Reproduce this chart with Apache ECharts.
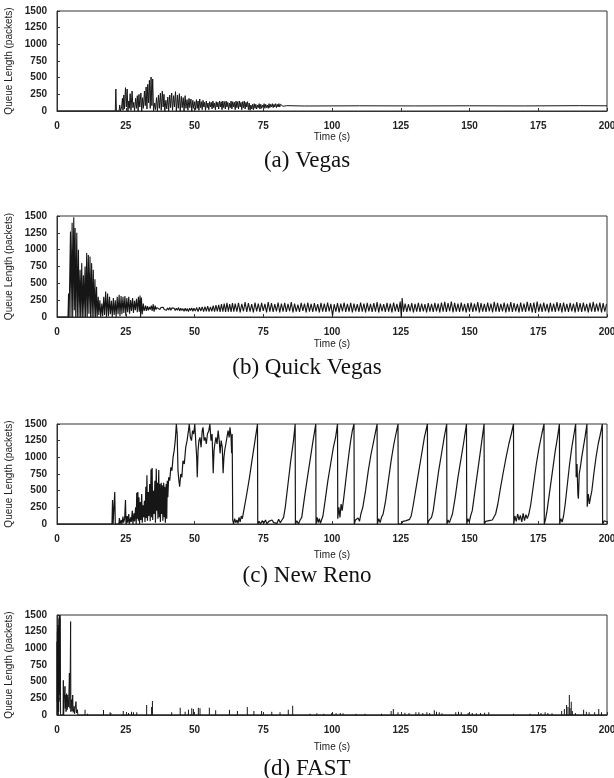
<!DOCTYPE html>
<html>
<head>
<meta charset="utf-8">
<script src="https://cdn.jsdelivr.net/npm/echarts@6/dist/echarts.min.js"></script>
<style>html,body{margin:0;padding:0;background:#fff;}#c{width:614px;height:778px;}</style>
</head>
<body>
<div id="c"></div>
<script>
// ---- data (time s, queue length packets) ----
const captions = ['(a) Vegas', '(b) Quick Vegas', '(c) New Reno', '(d) FAST'];
const xTicks = [0, 25, 50, 75, 100, 125, 150, 175, 200];
const yTicks = [0, 250, 500, 750, 1000, 1250, 1500];

const vegas = [[0,0],[21.2,0],[21.4,330],[21.6,0],[22.6,0],[22.8,90],[23.1,0],[23.5,60],[23.8,190],[24.0,10],[24.3,240],[24.5,30],[24.9,350],[25.2,60],[25.5,330],[25.8,0],[26.1,150],[26.3,40],[26.6,260],[26.9,10],[27.3,300],[27.6,50],[27.9,130],[28.2,0],[28.6,190],[28.9,40],[29.2,230],[29.5,0],[29.8,250],[30.1,60],[30.5,270],[30.8,0],[31.1,200],[31.4,40],[31.8,300],[32.1,80],[32.4,360],[32.7,30],[33.0,400],[33.3,120],[33.6,460],[33.9,40],[34.2,510],[34.5,80],[34.8,480],[35.1,0],[35.5,120],[35.8,20],[36.2,200],[36.5,0],[36.9,240],[37.2,40],[37.6,270],[37.9,10],[38.3,300],[38.6,60],[38.9,250],[39.2,0],[39.6,160],[39.9,30],[40.3,210],[40.6,0],[41.0,240],[41.3,50],[41.7,270],[42.0,10],[42.4,230],[42.7,60],[43.1,290],[43.4,0],[43.8,240],[44.1,40],[44.5,260],[44.8,0],[45.2,220],[45.5,50],[45.9,200],[46.2,0],[46.6,230],[46.9,40],[47.3,170],[47.6,10],[48.0,190],[48.3,50],[48.7,180],[49.0,0],[49.4,160],[49.7,40],[50.1,140],[50.4,20],
[50.7,170],[51.0,40],[51.3,150],[51.6,10],[51.9,180],[52.2,50],[52.5,140],[52.8,20],[53.1,160],[53.4,60],[53.7,130],[54.0,10],[54.3,150],[54.6,50],[54.9,120],[55.2,20],[55.5,140],[55.8,60],[56.1,130],[56.4,30],[56.7,150],[57.0,50],[57.3,120],[57.6,20],[57.9,140],[58.2,60],[58.5,130],[58.8,30],[59.1,150],[59.4,60],[59.7,140],[60.0,20],[60.3,150],[60.6,50],[60.9,140],[61.2,30],[61.5,150],[61.8,60],[62.1,130],[62.4,20],[62.7,120],[63.0,50],[63.3,150],[63.6,30],[63.9,140],[64.2,60],[64.5,130],[64.8,20],[65.1,150],[65.4,50],[65.7,140],[66.0,30],[66.3,150],[66.6,60],[66.9,130],[67.2,20],[67.5,140],[67.8,50],[68.1,150],[68.4,30],[68.7,130],[69.0,60],[69.3,140],[69.6,20],[69.9,120],[70.2,10],
[70.5,90],[70.8,30],[71.1,100],[71.4,20],[71.7,110],[72.0,40],[72.3,100],[72.6,30],[72.9,90],[73.2,50],[73.5,110],[73.8,30],[74.1,100],[74.4,40],[74.7,90],[75.0,50],[75.3,110],[75.6,40],[75.9,100],[76.2,50],[76.5,90],[76.8,40],[77.1,110],[77.4,50],[77.7,100],[78.0,60],[78.3,110],[78.6,50],[78.9,100],[79.2,60],[79.5,110],[79.8,50],[80.1,100],[80.4,60],[80.7,110],[81.0,60],[81.3,100],[81.6,70],[81.9,100],[82.2,70],[82.5,95],[82.8,75],[83.5,80],[90,75],[110,78],[130,76],[150,78],[170,76],[190,80],[200,78]];

const quickVegas = [[0,0],[4.0,0],[4.2,350],[4.4,0],[4.8,0],[4.9,1270],[5.1,0],[5.5,1400],[5.7,0],[6.1,1480],[6.3,100],[6.6,1320],[6.8,0],[7.2,1250],[7.4,0],[7.8,1000],[8.0,0],[8.4,700],[8.6,0],[9.0,800],[9.2,0],[9.6,620],[9.8,0],[10.2,750],[10.4,0],[10.8,950],[11.0,0],[11.4,920],[11.6,50],[12.0,900],[12.2,0],[12.6,800],[12.8,0],[13.2,700],[13.4,0],[13.8,560],[14.0,0],[14.4,450],[14.6,0],[15.0,300],[15.2,30],[15.6,250],[15.9,0],[16.3,200],[16.6,10],[17.0,300],[17.3,30],[17.7,380],[18.0,0],[18.4,350],[18.7,10],[19.1,300],[19.4,40],[19.8,240],[20.1,0],[20.5,280],[20.8,30],[21.2,250],[21.5,0],[21.9,300],[22.2,40],[22.6,330],[22.9,10],[23.3,310],[23.6,40],[24.0,300],[24.3,60],[24.7,310],[25.0,20],[25.4,280],[25.7,70],[26.1,300],[26.4,50],[26.8,250],[27.1,90],[27.5,280],[27.8,60],[28.2,240],[28.5,100],[28.9,270],[29.2,70],[29.6,300],[29.9,80],[30.2,320],[30.4,0],[30.7,290],[31.0,40],[31.4,200],[31.7,90],
[32.2,170],[32.5,90],[32.9,160],[33.2,100],[33.6,150],[33.9,110],[34.3,170],[34.6,90],[35.0,190],[35.3,80],[35.7,170],[36.0,110],[36.4,140],[36.7,120],[37.1,150],[37.4,110],[37.8,140],[38.2,115],[38.6,145],[39.0,110],[39.4,130],[39.8,100],[40.2,135],[40.6,105],[41.0,140],[41.4,100],[41.8,135],[42.2,110],[42.6,130],[43.0,95],[43.4,130],[43.8,100],[44.2,140],[44.6,90],[45.0,130],[45.4,95],[45.8,125],[46.2,85],[46.6,130],[47.0,90],[47.4,125],[47.8,80],[48.2,130],[48.6,95],[49.0,135],[49.4,85],[49.8,130],[50.3,90],[50.8,140],[51.3,80],[51.8,145],[52.3,90],[52.8,150],[53.3,80],[53.8,155],[54.3,85],[54.8,160],[55.3,80],[55.8,150],[56.3,85],[56.8,170],[57.3,80],[57.8,175],[58.3,85],[58.8,180],[59.3,75],[59.8,190],[60.3,80],[60.8,200],[61.3,75],[61.8,210],[62.3,80],[62.8,190],[63.3,75],[63.8,205],[64.3,80],
[64.8,200],[65.4,80],[66.0,210],[66.6,70],[67.2,195],[67.8,85],[68.4,220],[69.0,75],[69.6,205],[70.2,80],[70.8,190],[71.4,70],[72.0,215],[72.6,85],[73.2,200],[73.8,75],[74.4,210],[75.0,90],[75.6,195],[76.2,70],[76.8,220],[77.4,80],[78.0,205],[78.6,75],[79.2,190],[79.8,85],[80.4,215],[81.0,70],[81.6,200],[82.2,80],[82.8,210],[83.4,75],[84.0,195],[84.6,85],[85.2,220],[85.8,70],[86.4,200],[87.0,80],[87.6,185],[88.2,75],[88.8,210],[89.4,90],[90.0,200],[90.6,70],[91.2,215],[91.8,80],[92.4,195],[93.0,75],[93.6,205],[94.2,85],[94.8,190],[95.4,70],[96.0,210],[96.6,80],[97.2,200],[97.8,75],[98.4,215],[99.0,85],[99.6,195],[100.2,20],[100.8,190],[101.4,80],[102.0,205],[102.6,70],[103.2,200],[103.8,85],[104.4,215],[105.0,75],[105.6,195],[106.2,80],[106.8,210],[107.4,70],[108.0,200],[108.6,85],[109.2,190],[109.8,75],[110.4,215],[111.0,80],[111.6,200],[112.2,70],[112.8,210],[113.4,85],[114.0,195],[114.6,75],[115.2,205],[115.8,80],[116.4,220],[117.0,70],[117.6,200],[118.2,85],[118.8,190],[119.4,75],[120.0,210],[120.6,80],[121.2,200],[121.8,70],[122.4,215],[123.0,85],[123.6,195],[124.2,75],[124.8,230],[125.2,0],[125.5,280],[126.0,80],[126.6,200],[127.2,75],[127.8,190],[128.4,85],[129.0,205],[129.6,70],[130.2,195],[130.8,80],[131.4,210],[132.0,75],[132.6,200],[133.2,85],[133.8,190],[134.4,70],[135.0,205],[135.6,80],[136.2,195],[136.8,75],[137.4,210],[138.0,85],[138.6,200],[139.2,70],[139.8,215],[140.4,80],[141.0,225],[141.6,75],[142.2,205],[142.8,85],[143.4,230],[144.0,70],[144.6,210],[145.2,80],[145.8,200],[146.4,75],[147.0,215],[147.6,85],[148.2,195],[148.8,70],[149.4,205],[150.0,80],[150.6,215],[151.2,75],[151.8,200],[152.4,85],[153.0,220],[153.6,70],[154.2,205],[154.8,80],[155.4,195],[156.0,75],[156.6,215],[157.2,85],[157.8,200],[158.4,70],[159.0,225],[159.6,80],[160.2,210],[160.8,75],[161.4,195],[162.0,85],[162.6,215],[163.2,70],[163.8,200],[164.4,80],[165.0,220],[165.6,75],[166.2,205],[166.8,85],[167.4,195],[168.0,70],[168.6,215],[169.2,80],[169.8,200],[170.4,75],[171.0,225],[171.6,85],[172.2,205],[172.8,70],[173.4,215],[174.0,60],[174.6,230],[175.2,80],[175.8,200],[176.4,75],[177.0,215],[177.6,85],[178.2,195],[178.8,70],[179.4,210],[180.0,80],[180.6,200],[181.2,75],[181.8,220],[182.4,85],[183.0,205],[183.6,70],[184.2,215],[184.8,80],[185.4,195],[186.0,75],[186.6,210],[187.2,85],[187.8,200],[188.4,70],[189.0,220],[189.6,80],[190.2,205],[190.8,75],[191.4,215],[192.0,85],[192.6,195],[193.2,70],[193.8,210],[194.4,80],[195.0,225],[195.6,75],[196.2,200],[196.8,85],[197.4,215],[198.0,70],[198.6,205],[199.2,80],[199.8,190]];

const newReno = [[0,0],[20.0,0],[20.2,360],[20.4,0],[20.8,0],[21.0,480],[21.2,0],[22.5,0],[22.7,90],[22.9,0],[23.4,60],[23.6,0],[24.0,110],[24.2,20],[24.6,80],[24.9,360],[25.1,0],[25.5,120],[25.7,20],[26.1,150],[26.3,0],[26.8,100],[27.0,30],[27.4,200],[27.6,0],[28.0,160],[28.2,40],[28.6,250],[28.8,0],[29.0,470],[29.2,80],[29.4,480],[29.6,50],[29.8,400],[30.0,0],[30.3,330],[30.5,60],[30.8,450],[31.0,20],[31.3,280],[31.5,100],[31.8,350],[32.0,30],[32.3,560],[32.5,90],[32.7,730],[32.9,50],[33.2,480],[33.4,120],[33.7,600],[33.9,40],[34.2,820],[34.4,100],[34.6,840],[34.8,60],[35.1,500],[35.3,150],[35.6,650],[35.8,20],[36.1,830],[36.3,200],[36.5,620],[36.7,80],[37.0,810],[37.2,100],[37.4,600],[37.6,30],[37.9,620],[38.1,150],[38.3,580],[38.5,50],[38.8,620],[39.0,100],[39.2,560],[39.4,20],[39.7,600],[39.9,80],[40.1,650],[40.3,400],
[40.6,700],[41.0,650],[41.4,850],[41.8,800],[42.2,1000],[42.6,1100],[43.0,1250],[43.4,1500],[43.7,1350],[44.0,800],[44.3,660],[44.6,560],[45.0,750],[45.4,700],[45.8,950],[46.3,900],[46.8,1150],[47.3,1250],[47.8,1400],[48.1,1500],[48.5,1300],[48.9,1250],[49.3,1400],[49.7,1350],[50.1,1500],[50.5,1200],[50.8,1000],[51.0,700],[51.3,1100],[51.6,1250],[52.0,1300],[52.4,1150],[52.8,1400],[53.1,1450],[53.5,1250],[53.9,1300],[54.3,1200],[54.7,1350],[55.2,1400],[55.6,1500],[56.0,1250],[56.4,1350],[56.8,760],[57.1,1100],[57.4,1200],[57.8,1300],[58.2,1200],[58.6,1400],[59.0,1250],[59.3,1060],[59.7,1250],[60.1,1150],[60.4,760],[60.7,1000],[61.0,1110],[61.4,1200],[61.8,1300],[62.2,1400],[62.6,1300],[62.9,1450],[63.3,1300],[63.5,1060],[63.7,1350],[63.9,60],
[64.2,0],[64.6,80],[65.0,20],[65.4,60],[65.8,10],[66.2,100],[66.6,30],[67.0,120],[67.4,80],[68.0,220],[69.0,450],[70.0,700],[71.0,980],[72.0,1250],[72.9,1500],[73.0,0],
[73.5,40],[74.0,0],[74.6,50],[75.2,10],[75.8,60],[76.4,0],[77.0,40],[77.6,10],[78.2,60],[78.8,20],[79.4,50],[80.0,10],[80.6,70],[81.2,20],[81.8,60],[82.4,100],[83.0,250],[84.0,600],[85.0,950],[86.0,1250],[86.6,1500],[86.7,0],
[87.2,50],[87.8,0],[88.4,60],[89.0,100],[90.0,400],[91.0,680],[92.0,950],[93.0,1220],[94.1,1500],[94.2,0],
[94.6,100],[95.0,20],[95.4,80],[95.8,10],[96.2,60],[96.7,120],[97.5,350],[98.5,650],[99.5,900],[100.5,1150],[101.3,1300],[102.0,1500],[102.1,80],[102.5,250],[102.9,100],[103.3,300],[103.7,200],[104.3,400],[105.0,650],[105.7,900],[106.3,1100],[106.8,1250],[107.4,1400],[108.0,1500],[108.1,0],
[108.5,60],[109.0,30],[109.5,90],[110.0,40],[110.5,150],[111.2,250],[112.2,500],[113.2,800],[114.2,1050],[115.2,1250],[116.4,1500],[116.5,0],
[117.0,80],[117.5,20],[118.0,100],[118.6,150],[119.5,350],[120.5,650],[121.5,950],[122.5,1200],[124.0,1500],[124.1,0],
[124.6,30],[125.2,0],[125.8,40],[126.4,10],[127.0,50],[127.6,20],[128.2,70],[128.8,120],[129.6,300],[130.6,550],[131.6,800],[132.6,1050],[133.6,1300],[134.7,1500],[134.8,0],
[135.2,50],[135.7,20],[136.2,100],[136.8,200],[137.8,500],[138.8,800],[139.8,1050],[140.8,1300],[141.7,1500],[141.8,0],
[142.2,60],[142.7,20],[143.2,80],[143.8,150],[144.8,400],[145.8,700],[146.8,950],[147.8,1200],[148.9,1500],[149.0,0],
[149.4,80],[149.9,30],[150.4,120],[151.0,200],[152.0,500],[153.0,800],[154.0,1100],[155.3,1500],[155.4,0],
[155.9,40],[156.5,10],[157.1,50],[157.7,20],[158.3,60],[158.9,80],[159.5,150],[160.3,300],[161.3,550],[162.3,780],[163.3,1000],[164.3,1200],[165.2,1350],[166.0,1500],[166.1,0],
[166.5,120],[167.0,40],[167.5,150],[168.0,60],[168.5,130],[169.0,30],[169.5,160],[170.0,50],[170.5,140],[171.0,80],[171.6,150],[172.3,300],[173.3,600],[174.3,900],[175.3,1150],[176.3,1350],[177.1,1500],[177.2,0],
[177.7,80],[178.2,200],[179.2,500],[180.2,800],[181.2,1100],[182.0,1300],[182.7,1500],[182.8,0],
[183.2,80],[183.7,30],[184.2,120],[184.8,300],[185.6,600],[186.4,900],[187.2,1150],[188.0,1350],[188.6,1500],[188.8,700],[189.1,900],[189.4,450],[189.6,380],[189.9,750],[190.3,850],[190.8,1000],[191.4,1150],[192.0,1300],[192.7,1500],[192.8,260],[193.2,450],[193.6,300],[194.0,400],[194.5,500],[195.2,750],[196.0,1000],[196.8,1200],[197.6,1350],[198.3,1500],[198.4,0],[199.0,50],[199.5,20],[200,30]];

const fastBurst = [[0,0],[0.05,1100],[0.1,200],[0.15,1250],[0.2,100],[0.25,1300],[0.3,300],[0.35,1200],[0.4,0],[0.45,1350],[0.5,150],[0.55,1250],[0.6,50],[0.65,1300],[0.7,200],[0.75,1450],[0.8,400],[0.85,1500],[0.95,1500],[1.0,300],[1.05,1500],[1.15,1500],[1.2,1450],[1.3,0],[2.2,0],[2.3,520],[2.4,0],[2.8,0],[2.9,430],[3.0,100],[3.2,300],[3.3,50],[3.5,320],[3.7,80],[3.9,300],[4.1,120],[4.3,280],[4.5,630],[4.7,100],[4.95,1400],[5.05,50],[5.3,230],[5.5,60],[5.7,300],[5.9,40],[6.2,130],[6.4,20],[6.9,200],[7.1,30],[7.4,80],[7.6,0],[7.8,25],[8.0,0],[200,0]];

const fastSpikes = [[10.2,80],[11.1,20],[16.9,75],[19.3,40],[19.6,30],[24.1,60],[26.0,30],[27.1,50],[27.8,40],[29.0,40],[32.6,150],[34.4,120],[34.7,210],[41.7,40],[44.8,110],[46.6,50],[47.8,80],[49.0,100],[49.6,90],[51.4,110],[52.0,100],[55.4,110],[57.7,70],[62.7,80],[65.6,60],[69.2,120],[71.6,60],[74.4,60],[78.1,50],[81.1,40],[84.1,80],[85.7,140],
[92,20],[94.5,25],[97,20],[99.9,30],[101.5,25],[103,30],[104,25],[108.7,20],[112,20],[118,20],[121.5,60],[122.3,90],[124,40],[126.5,35],[128,30],[130.5,40],[131.6,40],[133,30],[134.5,40],[135.5,30],[137.2,70],[138,50],[139,40],[140,25],[145,40],[146,50],[147,40],[149.5,30],[151,30],[152.5,25],[154,30],[155.5,35],[157,40],[166,20],[172,20],[176,30],[177.5,40],[178.5,30],[180,25],[183.5,60],[184.5,90],[185.3,150],[185.8,120],[186.3,300],[186.6,100],[187.0,200],[187.4,60],[188.5,30],[191.5,80],[192.5,50],[193.5,40],[195.5,40],[197,90],[198,40]];

// ---- layout ----
const tops = [11, 216, 424, 615];
const heights = [100, 101, 100, 100];
const nameGaps = [20, 22, 26, 27];
const captionY = [149, 356, 564, 757];
const LBL = {fontFamily: 'Liberation Sans', fontWeight: 'bold', fontSize: 10, color: '#222'};
const INK = '#161616';

const grids = [], xAxes = [], yAxes = [], series = [], graphics = [];
for (let i = 0; i < 4; i++) {
  grids.push({left: 57, right: 7, top: tops[i], height: heights[i], show: true, borderColor: '#333', borderWidth: 1,
    backgroundColor: 'transparent', containLabel: false, outerBoundsMode: 'none'});
  xAxes.push({type: 'value', gridIndex: i, min: xTicks[0], max: xTicks[xTicks.length-1], interval: 25,
    axisLine: {show: true, onZero: false, lineStyle: {color: '#333', width: 1}},
    axisTick: {show: true, inside: true, length: 3, lineStyle: {color: '#333'}},
    splitLine: {show: false},
    axisLabel: Object.assign({margin: 10, formatter: v => String(v)}, LBL),
    name: 'Time (s)', nameLocation: 'middle', nameGap: nameGaps[i],
    nameTextStyle: {fontFamily: 'Liberation Sans', fontSize: 10, color: '#222'}});
  yAxes.push({type: 'value', gridIndex: i, min: yTicks[0], max: yTicks[yTicks.length-1], interval: 250,
    axisLine: {show: true, lineStyle: {color: '#333', width: 1}},
    axisTick: {show: true, inside: true, length: 3, lineStyle: {color: '#333'}},
    splitLine: {show: false},
    axisLabel: Object.assign({margin: 10, formatter: v => String(v)}, LBL),
    name: 'Queue Length (packets)', nameLocation: 'middle', nameGap: 34, nameRotate: 90,
    nameTextStyle: {fontFamily: 'Liberation Sans', fontSize: 10, color: '#222'}});
  graphics.push({type: 'text', left: 'center', top: captionY[i],
    style: {text: captions[i], font: '23px "Liberation Serif"', fill: '#111'}});
}
function lineSeries(idx, data, w) {
  return {type: 'line', xAxisIndex: idx, yAxisIndex: idx, data: data, showSymbol: false, symbol: 'none',
    animation: false, lineStyle: {color: INK, width: w || 1}, silent: true};
}
series.push(lineSeries(0, vegas, 1));
series.push(lineSeries(1, quickVegas, 1.1));
series.push(lineSeries(2, newReno, 1.2));
series.push(lineSeries(3, fastBurst, 1));
series.push({type: 'bar', xAxisIndex: 3, yAxisIndex: 3, data: fastSpikes, barWidth: 1, animation: false, silent: true,
  itemStyle: {color: INK}});

const chart = echarts.init(document.getElementById('c'), null, {renderer: 'canvas'});
chart.setOption({animation: false, grid: grids, xAxis: xAxes, yAxis: yAxes, series: series, graphic: graphics});
</script>
</body>
</html>
